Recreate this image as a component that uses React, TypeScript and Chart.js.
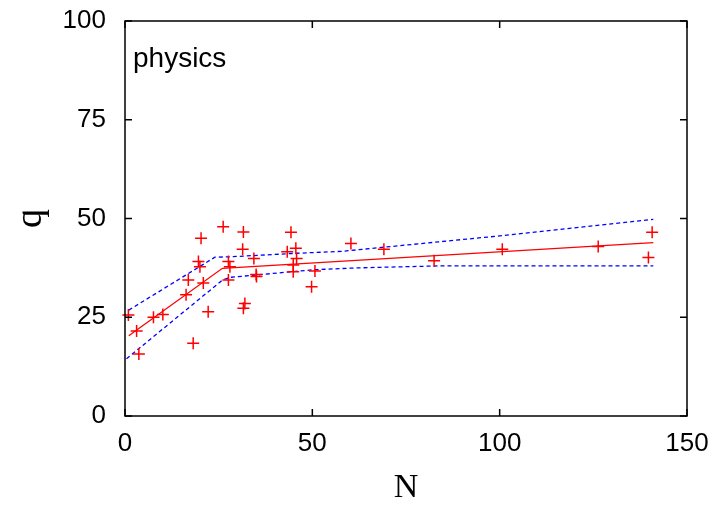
import React, { useEffect, useRef } from "react";
import { Chart, registerables } from "chart.js";

Chart.register(...registerables);

const pointsN = [0.9, 3.1, 3.7, 7.6, 10.1, 16.3, 16.9, 18.2, 19.6, 20.0, 20.3, 20.9, 22.2, 26.2, 27.6, 28.0, 27.6, 31.4, 31.6, 32.0, 31.6, 34.4, 35.1, 35.0, 44.3, 43.3, 45.6, 45.8, 44.9, 44.9, 50.7, 49.8, 60.3, 69.1, 82.5, 100.7, 126.3, 140.7, 139.7];
const pointsQ = [25.6, 21.5, 15.7, 25.0, 25.7, 30.7, 34.4, 18.4, 39.1, 37.8, 45.0, 33.7, 26.4, 47.9, 39.1, 37.8, 34.4, 42.2, 46.6, 28.5, 27.3, 39.9, 35.3, 35.8, 46.5, 41.6, 42.5, 39.9, 38.2, 36.5, 36.7, 32.7, 43.7, 42.2, 39.3, 42.2, 42.9, 46.5, 40.1];

const fitN = [1, 26, 141];
const fitQ = [20.3, 37.4, 43.9];

const upperN = [1, 24, 28, 46, 58, 100, 141];
const upperQ = [26.8, 40.2, 40.3, 41.2, 41.7, 45.6, 49.8];

const lowerN = [0.4, 26, 28, 35, 50, 62, 84, 141];
const lowerQ = [14.5, 34.4, 35.1, 35.7, 37.0, 37.5, 38.0, 38.0];

const xTicks = [0, 50, 100, 150];
const yTicks = [0, 25, 50, 75, 100];
const annotation = "physics";
const xTitle = "N";
const yTitle = "q";

const zip = (xs: number[], ys: number[]) => xs.map((x, i) => ({ x, y: ys[i] }));

const framePlugin = {
  id: "frame",
  afterDraw(chart: any) {
    const { ctx, chartArea } = chart;
    const { left, right, top, bottom } = chartArea;
    const xs = chart.scales.x;
    const ys = chart.scales.y;
    ctx.save();
    ctx.strokeStyle = "#000";
    ctx.lineWidth = 1.5;
    ctx.strokeRect(left, top, right - left, bottom - top);
    const tl = 7;
    ctx.beginPath();
    xTicks.forEach((v) => {
      const px = xs.getPixelForValue(v);
      ctx.moveTo(px, bottom);
      ctx.lineTo(px, bottom - tl);
      ctx.moveTo(px, top);
      ctx.lineTo(px, top + tl);
    });
    yTicks.forEach((v) => {
      const py = ys.getPixelForValue(v);
      ctx.moveTo(left, py);
      ctx.lineTo(left + tl, py);
      ctx.moveTo(right, py);
      ctx.lineTo(right - tl, py);
    });
    ctx.stroke();
    ctx.fillStyle = "#000";
    ctx.font = "28px 'Liberation Sans', Arial, sans-serif";
    ctx.textAlign = "left";
    ctx.textBaseline = "alphabetic";
    ctx.fillText(annotation, left + 8, top + 46);
    ctx.restore();
  },
};

export default function App() {
  const ref = useRef<HTMLCanvasElement | null>(null);
  useEffect(() => {
    if (!ref.current) return;
    const chart = new Chart(ref.current, {
      type: "scatter",
      data: {
        datasets: [
          {
            label: "data",
            data: zip(pointsN, pointsQ),
            pointStyle: "cross",
            pointRadius: 6,
            pointBorderWidth: 1.5,
            borderColor: "#ff0000",
            backgroundColor: "#ff0000",
            showLine: false,
            clip: false as any,
          },
          {
            label: "fit",
            data: zip(fitN, fitQ),
            showLine: true,
            pointRadius: 0,
            borderColor: "#ff0000",
            borderWidth: 1.3,
          },
          {
            label: "upper",
            data: zip(upperN, upperQ),
            showLine: true,
            pointRadius: 0,
            borderColor: "#0000ff",
            borderWidth: 1.3,
            borderDash: [4, 3],
          },
          {
            label: "lower",
            data: zip(lowerN, lowerQ),
            showLine: true,
            pointRadius: 0,
            borderColor: "#0000ff",
            borderWidth: 1.3,
            borderDash: [4, 3],
          },
        ],
      },
      options: {
        animation: false,
        responsive: true,
        maintainAspectRatio: false,
        layout: { padding: { top: 21, right: 34, left: 0, bottom: 0 } },
        plugins: { legend: { display: false }, tooltip: { enabled: false } },
        scales: {
          x: {
            type: "linear",
            min: 0,
            max: 150,
            afterBuildTicks: (s: any) => {
              s.ticks = xTicks.map((v) => ({ value: v }));
            },
            afterFit: (s: any) => {
              s.height = 89;
              s.paddingLeft = 0;
              s.paddingRight = 0;
            },
            grid: { display: false, drawTicks: false },
            border: { display: false },
            ticks: {
              color: "#000",
              padding: 12,
              font: { family: "'Liberation Sans', Arial, sans-serif", size: 26 },
            },
            title: {
              display: true,
              text: xTitle,
              color: "#000",
              padding: { top: 0, bottom: 0 },
              font: { family: "'Liberation Serif', 'Times New Roman', serif", size: 34, lineHeight: 1 },
            },
          },
          y: {
            type: "linear",
            min: 0,
            max: 100,
            afterBuildTicks: (s: any) => {
              s.ticks = yTicks.map((v) => ({ value: v }));
            },
            afterFit: (s: any) => {
              s.width = 125;
              s.paddingTop = 0;
              s.paddingBottom = 0;
            },
            grid: { display: false, drawTicks: false },
            border: { display: false },
            ticks: {
              color: "#000",
              padding: 19,
              font: { family: "'Liberation Sans', Arial, sans-serif", size: 26 },
            },
            title: {
              display: true,
              text: yTitle,
              color: "#000",
              padding: { top: 12, bottom: 0 },
              font: { family: "'Liberation Serif', 'Times New Roman', serif", size: 38, lineHeight: 1 },
            },
          },
        },
      },
      plugins: [framePlugin],
    });
    return () => chart.destroy();
  }, []);
  return (
    <div style={{ position: "absolute", left: 0, top: 0, width: 721, height: 505, background: "#fff" }}>
      <canvas ref={ref} />
    </div>
  );
}
